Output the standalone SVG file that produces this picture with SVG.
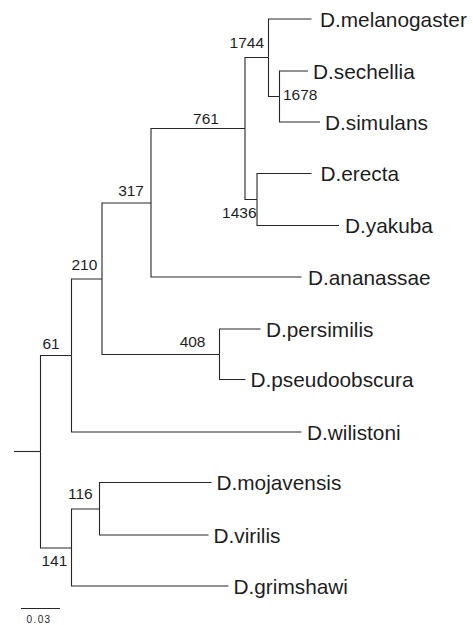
<svg xmlns="http://www.w3.org/2000/svg" width="473" height="625" viewBox="0 0 473 625">
<style>
  .br { fill: none; stroke: #262626; stroke-width: 1.1; }
  .sp { font-family: "Liberation Sans", Arial, sans-serif; font-size: 20.8px; fill: #1e1e1e; }
  .bs { font-family: "Liberation Sans", Arial, sans-serif; font-size: 15.5px; fill: #1e1e1e; }
  .sc { font-family: "Liberation Sans", Arial, sans-serif; font-size: 10px; letter-spacing: 1.4px; fill: #1e1e1e; }
</style>
<rect width="473" height="625" fill="#ffffff"/>
<g id="connectors">
  <path class="br" d="M14,451.5 H40.5"/>
  <path class="br" d="M40.5,451.5 V355.5 H71.5"/>
  <path class="br" d="M40.5,451.5 V548 H71.5"/>
  <path class="br" d="M71.5,355.5 V279 H102"/>
  <path class="br" d="M71.5,355.5 V432 H301.5"/>
  <path class="br" d="M102,279 V203 H151"/>
  <path class="br" d="M102,279 V354.5 H219.5"/>
  <path class="br" d="M151,203 V128.5 H245"/>
  <path class="br" d="M151,203 V277 H301.5"/>
  <path class="br" d="M245,128.5 V57.5 H268.5"/>
  <path class="br" d="M245,128.5 V199.5 H257"/>
  <path class="br" d="M268.5,57.5 V19 H311.5"/>
  <path class="br" d="M268.5,57.5 V96.5 H279.5"/>
  <path class="br" d="M279.5,96.5 V71 H308"/>
  <path class="br" d="M279.5,96.5 V122 H320"/>
  <path class="br" d="M257,199.5 V173.5 H311.5"/>
  <path class="br" d="M257,199.5 V225.5 H339"/>
  <path class="br" d="M219.5,354.5 V329 H260.5"/>
  <path class="br" d="M219.5,354.5 V379.5 H245.5"/>
  <path class="br" d="M71.5,548 V509 H99.5"/>
  <path class="br" d="M71.5,548 V586 H228.5"/>
  <path class="br" d="M99.5,509 V482.5 H211.5"/>
  <path class="br" d="M99.5,509 V535 H208.5"/>
</g>
<g id="leaf-melanogaster"><text class="sp" x="320" y="26.5">D.melanogaster</text></g>
<g id="leaf-sechellia"><text class="sp" x="313" y="78.5">D.sechellia</text></g>
<g id="leaf-simulans"><text class="sp" x="325" y="129.5">D.simulans</text></g>
<g id="leaf-erecta"><text class="sp" x="320.5" y="181">D.erecta</text></g>
<g id="leaf-yakuba"><text class="sp" x="345" y="233">D.yakuba</text></g>
<g id="leaf-ananassae"><text class="sp" x="308" y="284.5">D.ananassae</text></g>
<g id="leaf-persimilis"><text class="sp" x="266" y="336.5">D.persimilis</text></g>
<g id="leaf-pseudoobscura"><text class="sp" x="250.5" y="387">D.pseudoobscura</text></g>
<g id="leaf-wilistoni"><text class="sp" x="307" y="439.5">D.wilistoni</text></g>
<g id="leaf-mojavensis"><text class="sp" x="216.5" y="490">D.mojavensis</text></g>
<g id="leaf-virilis"><text class="sp" x="213.5" y="542.5">D.virilis</text></g>
<g id="leaf-grimshawi"><text class="sp" x="233.5" y="593.5">D.grimshawi</text></g>
<g id="node-1744"><text class="bs" x="264" y="48" text-anchor="end">1744</text></g>
<g id="node-1678"><text class="bs" x="283" y="100">1678</text></g>
<g id="node-761"><text class="bs" x="206" y="124" text-anchor="middle">761</text></g>
<g id="node-1436"><text class="bs" x="256.5" y="218" text-anchor="end">1436</text></g>
<g id="node-317"><text class="bs" x="144" y="196" text-anchor="end">317</text></g>
<g id="node-210"><text class="bs" x="71.5" y="270">210</text></g>
<g id="node-408"><text class="bs" x="205.5" y="346.5" text-anchor="end">408</text></g>
<g id="node-61"><text class="bs" x="42.5" y="349">61</text></g>
<g id="node-116"><text class="bs" x="68" y="499">116</text></g>
<g id="node-141"><text class="bs" x="41.5" y="566">141</text></g>
<g id="scale-bar">
  <path class="br" d="M21,608.5 H60"/>
  <text class="sc" x="26.5" y="622.5">0.03</text>
</g>
</svg>
